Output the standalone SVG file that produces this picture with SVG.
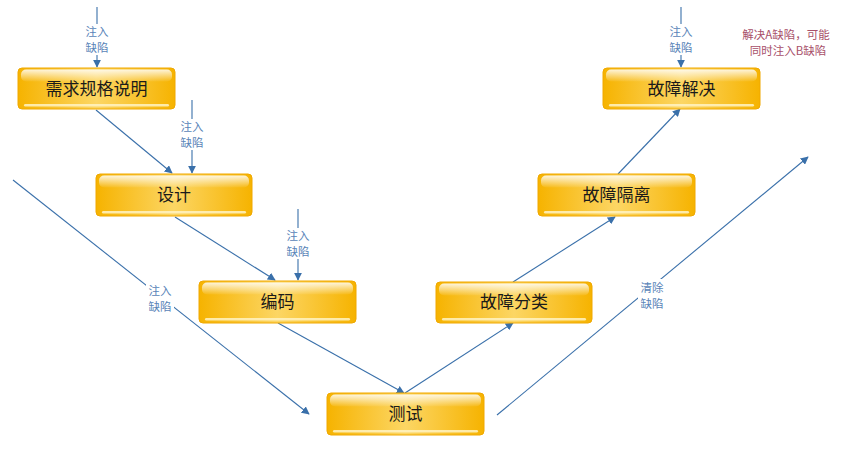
<svg xmlns="http://www.w3.org/2000/svg" width="842" height="449" viewBox="0 0 842 449">
<style>
.box{fill:url(#gOrange);stroke:#f0a800;stroke-width:1}
.gloss{fill:url(#gGloss)}
.shine{fill:#fff3c4;opacity:0.85}
.nt{font-family:"Noto Sans CJK SC","Noto Sans",sans-serif;font-size:17px;fill:#1a1a1a;text-anchor:middle}
.lbl{font-family:"Noto Sans CJK SC","Noto Sans",sans-serif;font-size:11.5px;fill:#5a84b8;text-anchor:middle}
.note{font-family:"Noto Sans CJK SC","Noto Sans",sans-serif;font-size:11.5px;fill:#a8506a;text-anchor:middle}
.ln{stroke:#3a70aa;stroke-width:1.1;fill:none;marker-end:url(#arr)}
.ln0{stroke:#3a70aa;stroke-width:1.1;fill:none}
.bg{fill:#ffffff}
</style>
<defs>
<linearGradient id="gOrange" x1="0" y1="0" x2="1" y2="0">
<stop offset="0" stop-color="#f6b300"/>
<stop offset="0.5" stop-color="#fcd664"/>
<stop offset="1" stop-color="#f6b300"/>
</linearGradient>
<linearGradient id="gGloss" x1="0" y1="0" x2="0" y2="1">
<stop offset="0" stop-color="#ffffff" stop-opacity="0.85"/>
<stop offset="1" stop-color="#ffffff" stop-opacity="0.05"/>
</linearGradient>
<marker id="arr" viewBox="0 0 10 10" refX="9" refY="5" markerWidth="8" markerHeight="8" orient="auto" markerUnits="userSpaceOnUse">
<path d="M0,0 L10,5 L0,10 z" fill="#3a70aa"/>
</marker>
</defs>

<g id="connectors">
<line class="ln" x1="96" y1="110" x2="172" y2="173"/>
<line class="ln" x1="175" y1="217" x2="275" y2="280"/>
<line class="ln" x1="278" y1="323" x2="404" y2="393"/>
<line class="ln" x1="405" y1="393" x2="513" y2="323"/>
<line class="ln" x1="513" y1="282" x2="615" y2="217"/>
<line class="ln" x1="618" y1="174" x2="680" y2="109"/>
<line class="ln" x1="97" y1="7" x2="97" y2="67"/>
<line class="ln" x1="192" y1="100" x2="192" y2="173"/>
<line class="ln" x1="298" y1="209" x2="298" y2="280"/>
<line class="ln" x1="681" y1="7" x2="681" y2="67"/>
<line class="ln" x1="13" y1="180" x2="309" y2="414"/>
<line class="ln" x1="497" y1="415" x2="808" y2="157"/>
</g>

<g id="labels">
<rect class="bg" x="84" y="24" width="26" height="31"/>
<text class="lbl" x="97" y="36">注入</text>
<text class="lbl" x="97" y="52">缺陷</text>
<rect class="bg" x="179" y="119" width="26" height="31"/>
<text class="lbl" x="192" y="131">注入</text>
<text class="lbl" x="192" y="147">缺陷</text>
<rect class="bg" x="285" y="228" width="26" height="31"/>
<text class="lbl" x="298" y="240">注入</text>
<text class="lbl" x="298" y="256">缺陷</text>
<rect class="bg" x="668" y="24" width="26" height="31"/>
<text class="lbl" x="681" y="36">注入</text>
<text class="lbl" x="681" y="52">缺陷</text>
<rect class="bg" x="146" y="282" width="28" height="32"/>
<text class="lbl" x="160" y="295">注入</text>
<text class="lbl" x="160" y="311">缺陷</text>
<rect class="bg" x="638" y="279" width="28" height="32"/>
<text class="lbl" x="652" y="292">清除</text>
<text class="lbl" x="652" y="308">缺陷</text>
<text class="note" x="786" y="39">解决A缺陷，可能</text>
<text class="note" x="788" y="55">同时注入B缺陷</text>
</g>

<g id="n1">
<rect class="box" x="18" y="68" width="157" height="41" rx="4"/>
<rect class="gloss" x="21" y="69.5" width="151" height="12" rx="5"/>
<rect class="shine" x="24" y="104" width="145" height="2.5" rx="1.2"/>
<text class="nt" x="96.5" y="95">需求规格说明</text>
</g>
<g id="n2">
<rect class="box" x="96" y="174" width="156" height="42" rx="4"/>
<rect class="gloss" x="99" y="175.5" width="150" height="12" rx="5"/>
<rect class="shine" x="102" y="211" width="144" height="2.5" rx="1.2"/>
<text class="nt" x="174" y="201">设计</text>
</g>
<g id="n3">
<rect class="box" x="199" y="281" width="157" height="42" rx="4"/>
<rect class="gloss" x="202" y="282.5" width="151" height="12" rx="5"/>
<rect class="shine" x="205" y="318" width="145" height="2.5" rx="1.2"/>
<text class="nt" x="277.5" y="308">编码</text>
</g>
<g id="n4">
<rect class="box" x="327" y="393" width="157" height="42" rx="4"/>
<rect class="gloss" x="330" y="394.5" width="151" height="12" rx="5"/>
<rect class="shine" x="333" y="430" width="145" height="2.5" rx="1.2"/>
<text class="nt" x="405.5" y="420">测试</text>
</g>
<g id="n5">
<rect class="box" x="436" y="282" width="156" height="41" rx="4"/>
<rect class="gloss" x="439" y="283.5" width="150" height="12" rx="5"/>
<rect class="shine" x="442" y="318" width="144" height="2.5" rx="1.2"/>
<text class="nt" x="514" y="308">故障分类</text>
</g>
<g id="n6">
<rect class="box" x="538" y="174" width="157" height="42" rx="4"/>
<rect class="gloss" x="541" y="175.5" width="151" height="12" rx="5"/>
<rect class="shine" x="544" y="211" width="145" height="2.5" rx="1.2"/>
<text class="nt" x="616.5" y="201">故障隔离</text>
</g>
<g id="n7">
<rect class="box" x="603" y="68" width="157" height="41" rx="4"/>
<rect class="gloss" x="606" y="69.5" width="151" height="12" rx="5"/>
<rect class="shine" x="609" y="104" width="145" height="2.5" rx="1.2"/>
<text class="nt" x="681.5" y="95">故障解决</text>
</g>
</svg>
